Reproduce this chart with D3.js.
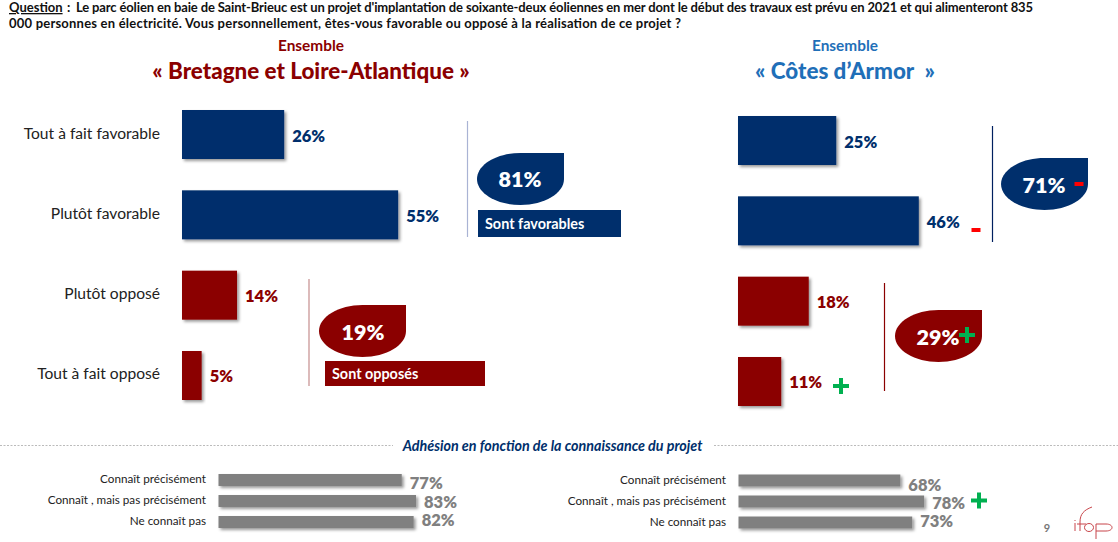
<!DOCTYPE html>
<html>
<head>
<meta charset="utf-8">
<script src="https://cdn.jsdelivr.net/npm/d3@7"></script>
<style>
  html, body { margin: 0; padding: 0; background: #fff; }
  text { font-family: Lato, "Open Sans", sans-serif; }
</style>
</head>
<body>
<div id="canvas"></div>
<script>
const opinions = ["Tout à fait favorable", "Plutôt favorable", "Plutôt opposé", "Tout à fait opposé"];
const bretagneValues = [26, 55, 14, 5];
const cotesValues = [25, 46, 18, 11];

const knowledge = ["Connaît précisément", "Connaît , mais pas précisément", "Ne connaît pas"];
const bretagneKnowledge = [77, 83, 82];
const cotesKnowledge = [68, 78, 73];

const questionLines = [
  "Le parc éolien en baie de Saint-Brieuc est un projet d'implantation de soixante-deux éoliennes en mer dont le début des travaux est prévu en 2021 et qui alimenteront 835",
  "000 personnes en électricité. Vous personnellement, êtes-vous favorable ou opposé à la réalisation de ce projet ?"
];

const blue = "#002f6c", red = "#8b0000", grey = "#808080", green = "#00b050", flag = "#ff0000";

const width = 1118, height = 542;
const svg = d3.select("#canvas").append("svg")
  .attr("width", width).attr("height", height)
  .style("display", "block");

// soft drop shadow behind the bars
const shadow = svg.append("defs").append("filter").attr("id", "shadow")
  .attr("x", "-10%").attr("y", "-20%").attr("width", "130%").attr("height", "160%");
shadow.append("feDropShadow").attr("dx", 2).attr("dy", 2).attr("stdDeviation", 1.5)
  .attr("flood-color", "#000").attr("flood-opacity", 0.4);

const x = d3.scaleLinear().domain([0, 100]).range([0, 393]);
const xSmall = d3.scaleLinear().domain([0, 100]).range([0, 238]);
const colorOf = d3.scaleOrdinal().domain(opinions).range([blue, blue, red, red]);

// header
svg.append("text").attr("x", 9).attr("y", 12)
  .attr("font-size", 13).attr("font-weight", 700).attr("fill", "#111")
  .attr("text-decoration", "underline").text("Question");
svg.append("text").attr("x", 67).attr("y", 12)
  .attr("font-size", 13).attr("font-weight", 700).attr("fill", "#111").text(":");
svg.append("text").attr("x", 76).attr("y", 12)
  .attr("font-size", 13).attr("font-weight", 700).attr("fill", "#111")
  .attr("textLength", 957).attr("lengthAdjust", "spacing").text(questionLines[0]);
svg.append("text").attr("x", 9).attr("y", 28)
  .attr("font-size", 13).attr("font-weight", 700).attr("fill", "#111")
  .attr("textLength", 672).attr("lengthAdjust", "spacing").text(questionLines[1]);

function title(cx, color, yTop, yBottom, sub) {
  svg.append("text").attr("x", cx).attr("y", yTop).attr("text-anchor", "middle")
    .attr("font-size", 15.4).attr("font-weight", 700).attr("fill", color).text("Ensemble");
  svg.append("text").attr("x", cx).attr("y", yBottom).attr("text-anchor", "middle")
    .attr("font-size", 22.4).attr("font-weight", 900).attr("fill", color).text(sub);
}
title(311, red, 51, 79, "« Bretagne et Loire-Atlantique »");
title(845, "#1f6fb8", 51, 79, "« Côtes d’Armor\u00a0\u00a0»");

// horizontal bars of one panel
function bars(x0, rowTop, values) {
  const y = d3.scaleBand().domain(opinions).range([rowTop, rowTop + 290]).paddingInner(0.39).paddingOuter(0);
  const g = svg.append("g");
  g.selectAll("rect").data(opinions).join("rect")
    .attr("x", x0).attr("y", d => y(d))
    .attr("width", (d, i) => x(values[i])).attr("height", y.bandwidth())
    .attr("fill", d => colorOf(d)).attr("filter", "url(#shadow)");
  g.selectAll("text").data(opinions).join("text")
    .attr("x", (d, i) => x0 + x(values[i]) + 8)
    .attr("y", d => y(d) + y.bandwidth() / 2 + 7)
    .attr("font-size", 16.5).attr("font-weight", 800).attr("fill", d => colorOf(d))
    .text((d, i) => values[i] + "%");
  return y;
}
const yLeft = bars(182, 110, bretagneValues);
bars(738, 116, cotesValues);

svg.append("g").selectAll("text").data(opinions).join("text")
  .attr("x", 160).attr("y", d => yLeft(d) + yLeft.bandwidth() / 2 + 4)
  .attr("text-anchor", "end").attr("font-size", 15.6).attr("fill", "#222").text(d => d);

// teardrop: ellipse with a square top right corner
function bubble(bx, by, color) {
  const w = 87, h = 52, rx = w / 2, ry = h / 2;
  const p = d3.path();
  p.moveTo(bx + w, by);
  p.lineTo(bx + w, by + ry);
  p.bezierCurveTo(bx + w, by + ry * 1.55, bx + rx * 1.55, by + h, bx + rx, by + h);
  p.bezierCurveTo(bx + rx * 0.45, by + h, bx, by + ry * 1.55, bx, by + ry);
  p.bezierCurveTo(bx, by + ry * 0.45, bx + rx * 0.45, by, bx + rx, by);
  p.closePath();
  svg.append("path").attr("d", p.toString()).attr("fill", color);
}
function pct(px, py, label, size) {
  svg.append("text").attr("x", px).attr("y", py).attr("text-anchor", "middle")
    .attr("font-size", size).attr("font-weight", 800).attr("fill", "#fff").text(label);
}
function vline(lx, y1, y2, color) {
  svg.append("line").attr("x1", lx).attr("x2", lx).attr("y1", y1).attr("y2", y2)
    .attr("stroke", color).attr("stroke-width", 1.2);
}
function tag(tx, ty, w, h, color, label) {
  svg.append("rect").attr("x", tx).attr("y", ty).attr("width", w).attr("height", h).attr("fill", color);
  svg.append("text").attr("x", tx + 7).attr("y", ty + h / 2 + 5).attr("font-size", 14.4)
    .attr("font-weight", 700).attr("fill", "#fff").text(label);
}
function plus(cx, cy, s) {
  svg.append("path").attr("d", `M${cx - s},${cy}H${cx + s}M${cx},${cy - s}V${cy + s}`)
    .attr("stroke", green).attr("stroke-width", 4).attr("fill", "none");
}
function minus(cx, cy) {
  svg.append("rect").attr("x", cx - 4.5).attr("y", cy - 2).attr("width", 9).attr("height", 4).attr("fill", flag);
}

vline(467.5, 121, 237, "#a9b3d4");
bubble(477, 153, blue);
pct(520, 187, "81%", 21.5);
tag(478, 210, 143, 27, blue, "Sont favorables");

vline(309, 279, 386, "#c58d8d");
bubble(319, 305, red);
pct(363, 340, "19%", 21.5);
tag(325, 361, 160, 25, red, "Sont opposés");

vline(992.5, 126, 242, "#002060");
bubble(1001, 158, blue);
pct(1044, 193, "71%", 21.5);
minus(1079, 184);

vline(884.5, 283, 391, red);
bubble(895, 310, red);
pct(938, 345, "29%", 21.5);
plus(967, 335, 8);

minus(976, 230);
plus(841, 386, 8);

// separator and sub title
svg.append("line").attr("x1", 0).attr("x2", 393).attr("y1", 445.5).attr("y2", 445.5)
  .attr("stroke", "#aaa").attr("stroke-dasharray", "2 1.5").attr("stroke-width", 0.8);
svg.append("line").attr("x1", 714).attr("x2", width).attr("y1", 445.5).attr("y2", 445.5)
  .attr("stroke", "#aaa").attr("stroke-dasharray", "2 1.5").attr("stroke-width", 0.8);
svg.append("text").attr("x", 552.5).attr("y", 451).attr("text-anchor", "middle")
  .attr("font-size", 14.3).attr("font-weight", 700).attr("font-style", "italic").attr("fill", "#002f6c")
  .text("Adhésion en fonction de la connaissance du projet");

// small grey bars at the bottom
function smallBars(x0, labelX, rowTop, values, labelDy) {
  const y = d3.scaleBand().domain(knowledge).range([rowTop, rowTop + 54]).paddingInner(0.43).paddingOuter(0);
  const g = svg.append("g");
  g.selectAll("rect").data(knowledge).join("rect")
    .attr("x", x0).attr("y", d => y(d))
    .attr("width", (d, i) => xSmall(values[i])).attr("height", y.bandwidth())
    .attr("fill", grey).attr("filter", "url(#shadow)");
  g.selectAll("text.v").data(knowledge).join("text").attr("class", "v")
    .attr("x", (d, i) => x0 + xSmall(values[i]) + 8)
    .attr("y", (d, i) => y(d) + labelDy[i])
    .attr("font-size", 16.5).attr("font-weight", 800).attr("fill", grey)
    .text((d, i) => values[i] + "%");
  g.selectAll("text.c").data(knowledge).join("text").attr("class", "c")
    .attr("x", labelX).attr("y", d => y(d) + 9)
    .attr("text-anchor", "end").attr("font-size", 11.7).attr("fill", "#222").text(d => d);
}
smallBars(218.5, 206, 474, bretagneKnowledge, [15, 13, 10]);
smallBars(738.5, 726, 474.5, cotesKnowledge, [16, 13, 10.5]);
plus(979, 500.5, 8);

// page number and logo
svg.append("text").attr("x", 1047).attr("y", 532).attr("text-anchor", "middle")
  .attr("font-size", 11).attr("font-weight", 700).attr("fill", "#777").text("9");
const logo = svg.append("g").attr("fill", "none").attr("stroke", "#c8454a").attr("stroke-width", 1);
logo.append("path").attr("d", "M1075,523V531M1075,520V521");
logo.append("path").attr("d", "M1080,531V522C1080,514 1084,510 1092,507");
logo.append("path").attr("d", "M1077,524H1086");
logo.append("ellipse").attr("cx", 1089).attr("cy", 527.5).attr("rx", 4.5).attr("ry", 4);
logo.append("path").attr("d", "M1096,539V524H1106C1114,524 1114,531 1106,531H1096");
</script>
</body>
</html>
